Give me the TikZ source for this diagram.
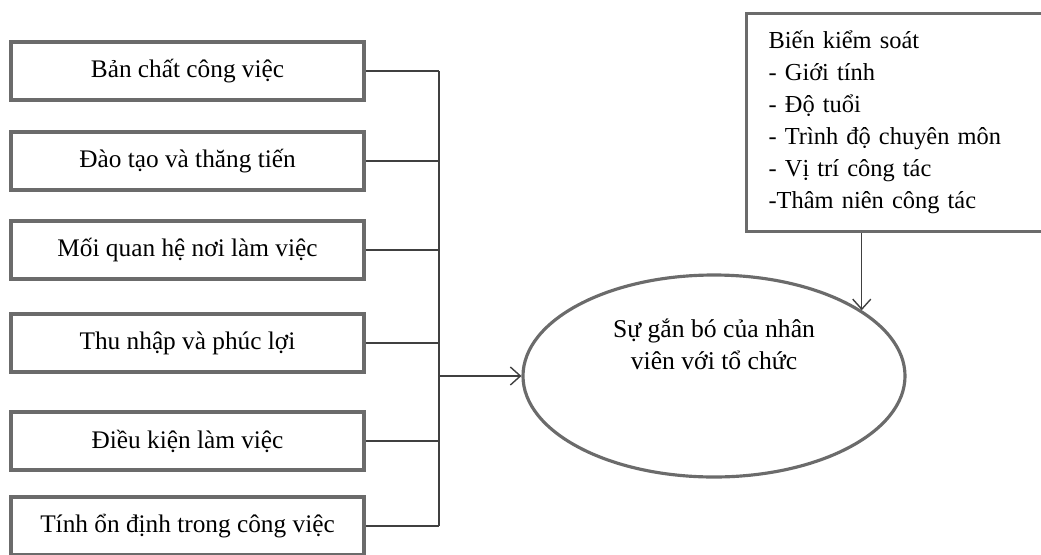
\documentclass[tikz,border=0pt]{standalone}
\usepackage{fontspec}
\setmainfont{Liberation Serif}
\usetikzlibrary{shapes.geometric, arrows.meta}

\begin{document}
\begin{tikzpicture}[
  factor/.style={draw=black!58, line width=1.8pt, fill=white, minimum width=7.06cm,
                 minimum height=1.16cm, font=\fontsize{14.4}{17}\selectfont},
  control/.style={draw=black!58, line width=1.8pt, anchor=north west, align=left,
                  text width=5.3cm, inner xsep=0.44cm, minimum height=4.36cm,
                  font=\fontsize{13.9}{18.2}\selectfont},
  goal/.style={ellipse, draw=black!58, line width=1.8pt, minimum width=7.64cm,
               minimum height=4.04cm},
  link/.style={draw=black!75, line width=0.8pt},
  arrow/.style={link, -{Straight Barb[length=2mm, width=3.6mm]}},
]
  \useasboundingbox (0, 0) rectangle (20.82, -11.08);

  % Factors (left)
  \node[factor] (b1) at (3.75, -1.42) {Bản chất công việc};
  \node[factor] (b2) at (3.75, -3.22) {Đào tạo và thăng tiến};
  \node[factor] (b3) at (3.75, -5.00) {Mối quan hệ nơi làm việc};
  \node[factor] (b4) at (3.75, -6.86) {Thu nhập và phúc lợi};
  \node[factor] (b5) at (3.75, -8.82) {Điều kiện làm việc};
  \node[factor] (b6) at (3.75, -10.52) {Tính ổn định trong công việc};

  % Outcome and control variables
  \node[goal] (goal) at (14.28, -7.52) {};
  \node[font=\fontsize{14.6}{18.4}\selectfont, align=center] (goaltext)
    at ([yshift=0.64cm]goal.center) {Sự gắn bó của nhân\\viên với tổ chức};
  \node[control] (ctrl) at (14.9, -0.24) {Biến kiểm soát\\- Giới tính\\- Độ tuổi\\
    - Trình độ chuyên môn\\- Vị trí công tác\\-Thâm niên công tác};

  % Bus
  \coordinate (bus) at (8.78, 0);
  \draw[link] (b1.east) -- (b1.east -| bus);
  \draw[link] (b2.east) -- (b2.east -| bus);
  \draw[link] (b3.east) -- (b3.east -| bus);
  \draw[link] (b4.east) -- (b4.east -| bus);
  \draw[link] (b5.east) -- (b5.east -| bus);
  \draw[link] (b6.east) -- (b6.east -| bus);
  \draw[link] (b1.east -| bus) -- (b6.east -| bus);
  \draw[arrow] (goal.west -| bus) -- (goal.west);
  \draw[arrow] (ctrl.south -| goal.24.8) -- (goal.24.8);
\end{tikzpicture}
\end{document}
